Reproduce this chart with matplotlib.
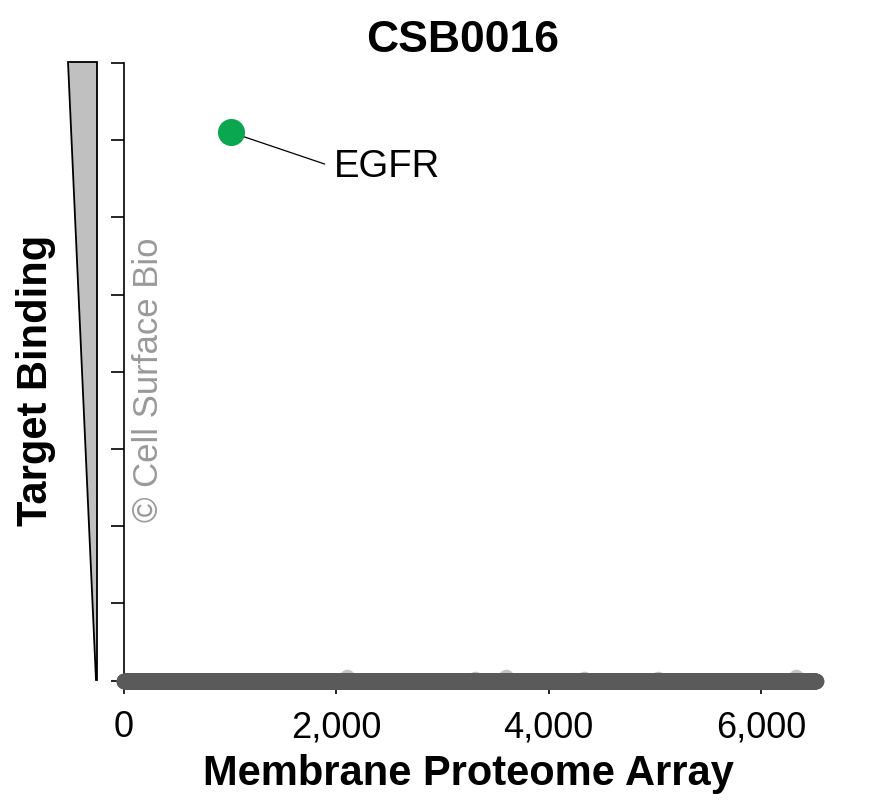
import numpy as np
import matplotlib
matplotlib.use('Agg')
import matplotlib.pyplot as plt
from matplotlib.patches import Polygon
from matplotlib.ticker import FuncFormatter

plt.rcParams['font.family'] = ['Liberation Sans', 'DejaVu Sans']

# array positions of the membrane proteome array, all non-binders at 0
n_proteins = 6515
array_index = np.arange(1, n_proteins + 1)
binding = np.zeros(n_proteins)

# weak (light grey) hits sitting just above baseline
weak_x = [2105, 3310, 3600, 4330, 5030, 6330]
weak_y = [0.04, 0.02, 0.05, 0.02, 0.02, 0.04]

# the specific hit
hit_name = 'EGFR'
hit_x = 1010
hit_y = 7.1

y_ticks = [0, 1, 2, 3, 4, 5, 6, 7, 8]
x_ticks = [0, 2000, 4000, 6000]

W, H = 877, 806
fig = plt.figure(figsize=(W / 100, H / 100), dpi=100)

# axes box in pixels, and pixel positions of the data origin / scale
ax_l, ax_r, ax_t, ax_b = 100, 845, 50, 700
x0_px, kx = 124, (761 - 124) / 6000
y0_px, ky = 680.5, (680.5 - 63) / 8

ax = fig.add_axes([ax_l / W, 1 - ax_b / H, (ax_r - ax_l) / W, (ax_b - ax_t) / H])
ax.set_xlim((ax_l - x0_px) / kx, (ax_r - x0_px) / kx)
ax.set_ylim(-(ax_b - y0_px) / ky, (y0_px - ax_t) / ky)

ax.scatter(weak_x, weak_y, s=126, color='#c4c4c4', zorder=2, clip_on=False, linewidths=0)
ax.scatter(array_index, binding, s=126, color='#5a5a5a', zorder=3, clip_on=False, linewidths=0)
ax.scatter([hit_x], [hit_y], s=380, color='#0aa650', zorder=4, linewidths=0)

ax.annotate(hit_name, xy=(hit_x, hit_y), xytext=(74, -25), textcoords='offset points',
            fontsize=27.5, ha='left', va='center',
            arrowprops=dict(arrowstyle='-', color='black', lw=0.9, shrinkA=5, shrinkB=0,
                            relpos=(0, 0.5)))

for side in ['top', 'right']:
    ax.spines[side].set_visible(False)
ax.spines['left'].set_position(('data', 0))
ax.spines['left'].set_bounds(0, 8)
ax.spines['left'].set_linewidth(1.2)
ax.spines['bottom'].set_position(('data', 0))
ax.spines['bottom'].set_bounds(0, 6000)
ax.spines['bottom'].set_linewidth(1.2)

ax.set_yticks(y_ticks)
ax.set_yticklabels([])
ax.set_xticks(x_ticks)
ax.xaxis.set_major_formatter(FuncFormatter(lambda v, p: f'{int(v):,}'))
ax.tick_params(axis='both', length=9.4, width=1.2, direction='out')
ax.tick_params(axis='x', labelsize=26, pad=12)

# wedge showing binding strength
tri = Polygon([(68 / W, 1 - 62 / H), (97 / W, 1 - 62 / H), (97 / W, 1 - 680 / H), (96 / W, 1 - 680 / H)],
              closed=True, transform=fig.transFigure, facecolor='#c0c0c0', edgecolor='black', lw=1.3)
fig.patches.append(tri)

fig.text(463 / W, 1 - 41 / H, 'CSB0016', fontsize=32, fontweight='bold', ha='center', va='center')
fig.text(468 / W, 1 - 774 / H, 'Membrane Proteome Array', fontsize=30, fontweight='bold',
         ha='center', va='center')
fig.text(36 / W, 1 - 380 / H, 'Target Binding', fontsize=30, fontweight='bold',
         ha='center', va='center', rotation=90)
fig.text(148 / W, 1 - 380 / H, '\u00a9 Cell Surface Bio', fontsize=25, color='#999999',
         ha='center', va='center', rotation=90)

fig.savefig('out.png', dpi=100)
